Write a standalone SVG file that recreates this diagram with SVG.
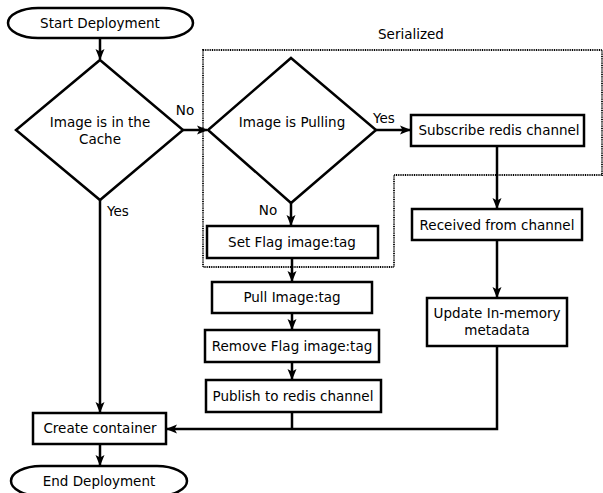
<svg xmlns="http://www.w3.org/2000/svg" width="603" height="493" viewBox="0 0 603 493">
<style>
.n{fill:#fff;stroke:#000;stroke-width:2.5}
.t{font-family:"DejaVu Sans",sans-serif;font-size:13.5px;fill:#000;text-anchor:middle}
.c{fill:none;stroke:#000;stroke-width:2.5}
.d{fill:none;stroke:#000;stroke-width:1.8;stroke-dasharray:1 0.8}
</style>
<defs>
<marker id="a" markerWidth="11" markerHeight="11" refX="10" refY="5.5" orient="auto" markerUnits="userSpaceOnUse">
<path d="M0,1 L11,5.5 L0,10 L2.5,5.5 Z" fill="#000"/>
</marker>
</defs>
<rect width="603" height="493" fill="#fff"/>
<g id="serialized">
<path class="d" d="M203,50 H602 V175 H394 V267 H203 Z"/>
<text class="t" x="411" y="39">Serialized</text>
</g>
<g id="connectors">
<path class="c" d="M100,38 V59" marker-end="url(#a)"/>
<path class="c" d="M183,130 H207" marker-end="url(#a)"/>
<path class="c" d="M100,200 V412" marker-end="url(#a)"/>
<path class="c" d="M376,130 H410" marker-end="url(#a)"/>
<path class="c" d="M291,203 V225" marker-end="url(#a)"/>
<path class="c" d="M292,258 V281" marker-end="url(#a)"/>
<path class="c" d="M292,313 V329" marker-end="url(#a)"/>
<path class="c" d="M292,362 V379" marker-end="url(#a)"/>
<path class="c" d="M497,146 V208" marker-end="url(#a)"/>
<path class="c" d="M497,240 V297" marker-end="url(#a)"/>
<path class="c" d="M497,346 V429 H167" marker-end="url(#a)"/>
<path class="c" d="M292,412 V429"/>
<path class="c" d="M100,444 V465" marker-end="url(#a)"/>
<text class="t" x="185" y="115">No</text>
<text class="t" x="118" y="216">Yes</text>
<text class="t" x="384" y="123">Yes</text>
<text class="t" x="268" y="215">No</text>
</g>
<g id="start">
<rect class="n" x="8" y="8" width="185" height="30" rx="30" ry="15"/>
<text class="t" x="100" y="28">Start Deployment</text>
</g>
<g id="cache">
<path class="n" d="M100,60 L183,130 L100,200 L16,130 Z"/>
<text class="t" x="100" y="127">Image is in the</text>
<text class="t" x="100" y="144">Cache</text>
</g>
<g id="pulling">
<path class="n" d="M291,58 L376,130 L291,203 L208,130 Z"/>
<text class="t" x="292" y="127">Image is Pulling</text>
</g>
<g id="subscribe">
<rect class="n" x="411" y="115" width="173" height="31"/>
<text class="t" x="499" y="135">Subscribe redis channel</text>
</g>
<g id="received">
<rect class="n" x="412" y="209" width="170" height="31"/>
<text class="t" x="497" y="230">Received from channel</text>
</g>
<g id="update">
<rect class="n" x="427" y="298" width="140" height="48"/>
<text class="t" x="497" y="318">Update In-memory</text>
<text class="t" x="497" y="335">metadata</text>
</g>
<g id="setflag">
<rect class="n" x="207" y="226" width="171" height="32"/>
<text class="t" x="292" y="247">Set Flag image:tag</text>
</g>
<g id="pull">
<rect class="n" x="212" y="282" width="160" height="31"/>
<text class="t" x="292" y="302">Pull Image:tag</text>
</g>
<g id="remove">
<rect class="n" x="205" y="330" width="174" height="32"/>
<text class="t" x="292" y="351">Remove Flag image:tag</text>
</g>
<g id="publish">
<rect class="n" x="206" y="380" width="175" height="32"/>
<text class="t" x="293" y="401">Publish to redis channel</text>
</g>
<g id="create">
<rect class="n" x="33" y="413" width="133" height="31"/>
<text class="t" x="100" y="433">Create container</text>
</g>
<g id="end">
<rect class="n" x="11" y="466" width="176" height="30" rx="30" ry="15"/>
<text class="t" x="99" y="486">End Deployment</text>
</g>
</svg>
